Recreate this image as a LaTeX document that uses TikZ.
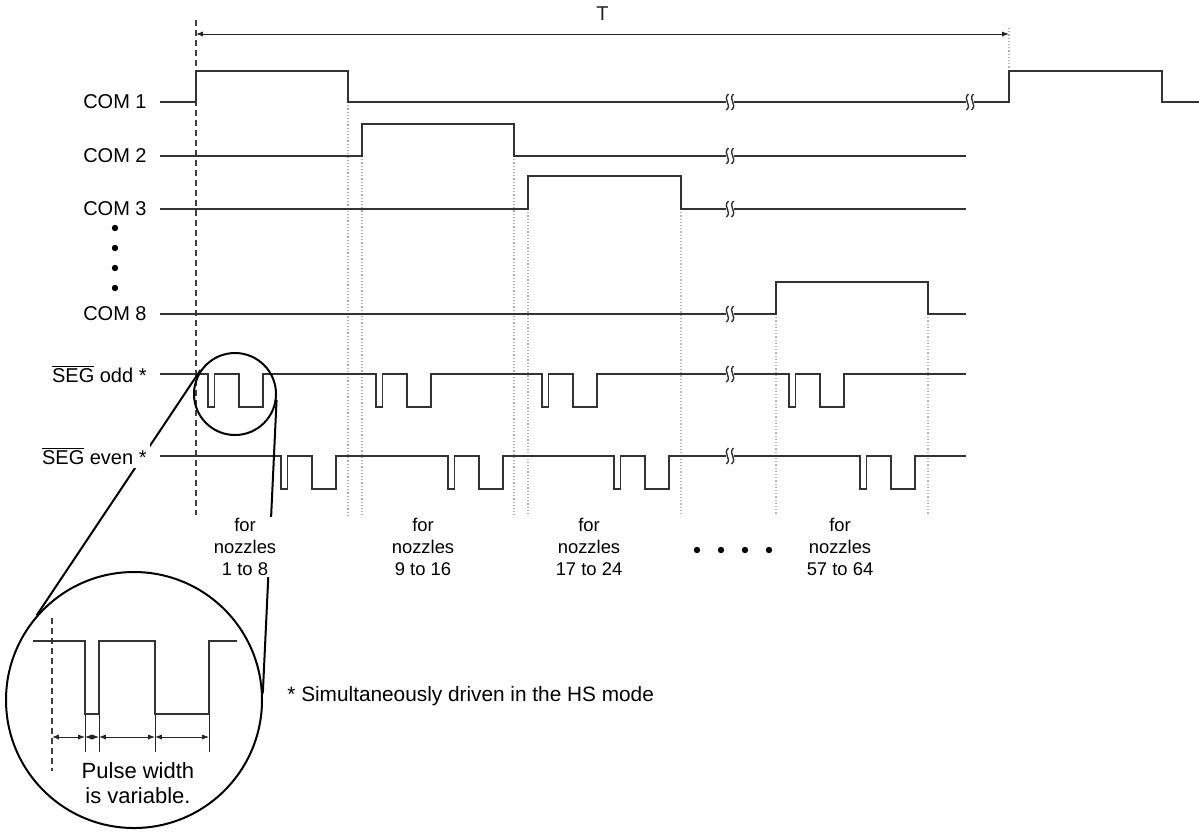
\documentclass[tikz,border=0pt]{standalone}
\usepackage{fontspec}
\setmainfont{Liberation Sans}
\usetikzlibrary{arrows.meta, positioning, calc}

% break mark on a signal line
\newcommand\gapmark[2]{%
  \fill[white] (#1-4,#2-8) rectangle (#1+4,#2+8);
  \draw[line width=0.7pt, black!80] (#1-1.5,#2-8) .. controls (#1-8,#2-2) and (#1+2.5,#2+2) .. (#1-3.5,#2+8);
  \draw[line width=0.7pt, black!80] (#1+3.5,#2-8) .. controls (#1-2.5,#2-2) and (#1+8,#2+2) .. (#1+1.5,#2+8);
}

\begin{document}
\begin{tikzpicture}[
  x=0.5pt, y=-0.5pt,
  sig/.style={line width=0.8pt, black!80},
  guide/.style={gray!60, densely dotted, line width=0.6pt},
  lead/.style={black!75, densely dashed, line width=0.6pt},
  lens/.style={line width=1pt, black},
  lbl/.style={anchor=east, inner sep=1.5pt, fill=white, font=\fontsize{10}{12}\selectfont},
  nozz/.style={align=center, fill=white, inner sep=1pt, font=\fontsize{9.2}{10.8}\selectfont},
  dim/.style={{Latex[length=3.4pt,width=2.6pt]}-{Latex[length=3.4pt,width=2.6pt]}, line width=0.5pt, black!85},
]
\useasboundingbox (0,0) rectangle (1199,832);

% timing guides
\draw[lead] (196,20) -- (196,515);
\foreach \gx/\gy in {348/102, 362/156, 514/156, 528/209, 681/209, 776/314, 928/314}
  \draw[guide] (\gx,\gy) -- (\gx,515);
\draw[guide] (1009,28) -- (1009,71);

% period
\coordinate (tl) at (196,34);
\coordinate (tr) at (1009,34);
\draw[dim] (tl) -- (tr) node[midway, above=3pt, font=\fontsize{10}{12}\selectfont] (tlabel) {T};

% COM waveforms
\draw[sig] (160,102) -- (196,102) |- (348,71) |- (1009,102) |- (1162,71) |- (1199,102);
\draw[sig] (160,156) -- (362,156) |- (514,124) |- (966,156);
\draw[sig] (160,209) -- (528,209) |- (681,176) |- (966,209);
\draw[sig] (160,314) -- (776,314) |- (928,282) |- (966,314);

% SEG waveforms
\draw[sig] (160,374) foreach \s in {208,376,542,789} {
  -- (\s,374) -- ++(0,33) -- ++(6.5,0) -- ++(0,-33) -- ++(24.5,0) -- ++(0,33) -- ++(24,0) -- ++(0,-33)
} -- (966,374);
\draw[sig] (160,456) foreach \s in {281,448,614,860} {
  -- (\s,456) -- ++(0,33) -- ++(6.5,0) -- ++(0,-33) -- ++(24.5,0) -- ++(0,33) -- ++(24,0) -- ++(0,-33)
} -- (966,456);

\foreach \bx/\by in {730/102, 970/102, 730/156, 730/209, 730/314, 730/374, 730/456}
  \gapmark{\bx}{\by};

% magnifier
\node[lens, draw, circle, inner sep=0, minimum size=41pt] (zoomc) at (235,394) {};
\node[lens, draw, circle, inner sep=0, minimum size=128pt] (bigc) at (134,700) {};
\draw[lens] (zoomc.145) -- (bigc.139);
\draw[lens] (zoomc.-8) -- (bigc.3);

% signal names
\node[lbl] (com1) at (150,102) {COM 1};
\node[lbl] (com2) at (150,156) {COM 2};
\node[lbl] (com3) at (150,209) {COM 3};
\node[lbl] (com8) at (150,314) {COM 8};
\foreach \dy in {228,248,268,288}
  \fill (115,\dy) circle (1.6pt);
\node[lbl] (segodd) at (150,374) {$\overline{\mbox{SEG}}$ odd *};
\node[lbl] (segeven) at (150,456) {$\overline{\mbox{SEG}}$ even *};

% nozzle groups
\node[nozz] (nz1) at (245,547) {for\\nozzles\\1 to 8};
\node[nozz] (nz2) at (423,547) {for\\nozzles\\9 to 16};
\node[nozz] (nz3) at (589,547) {for\\nozzles\\17 to 24};
\node[nozz] (nz4) at (840,547) {for\\nozzles\\57 to 64};
\foreach \dx in {697,721,745,769}
  \fill (\dx,550) circle (1.6pt);

% enlarged pulse detail
\draw[lead] (52,618) -- (52,771);
\draw[sig] (33,641) -| (85,714) -| (99,641) -| (155,714) -| (209,641) -- (237,641);
\foreach \ex in {85,99,155,209}
  \draw[line width=0.5pt, black!85] (\ex,714) -- (\ex,752);
\coordinate (d0) at (52,737);
\coordinate (d1) at (85,737);
\coordinate (d2) at (99,737);
\coordinate (d3) at (155,737);
\coordinate (d4) at (209,737);
\foreach \a/\b in {d0/d1, d1/d2, d2/d3, d3/d4}
  \draw[dim] (\a) -- (\b);
\node[align=center, font=\fontsize{11}{12.5}\selectfont] (pwtext) at (138,783) {Pulse width\\is variable.};

\node[anchor=west, inner sep=0, font=\fontsize{10.4}{12}\selectfont] (hsnote) at (287,696) {* Simultaneously driven in the HS mode};

\end{tikzpicture}
\end{document}
